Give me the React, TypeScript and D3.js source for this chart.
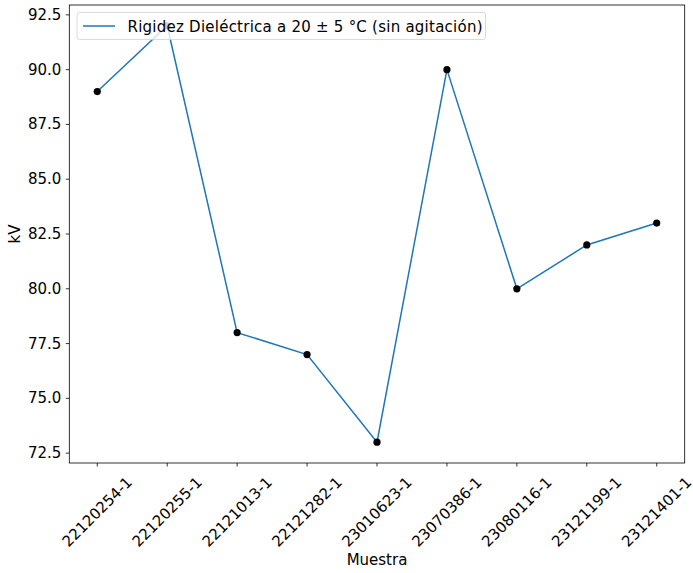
import React from "react";
import * as d3 from "d3";

const categories = [
  "22120254-1",
  "22120255-1",
  "22121013-1",
  "22121282-1",
  "23010623-1",
  "23070386-1",
  "23080116-1",
  "23121199-1",
  "23121401-1",
];
const values = [89, 92, 78, 77, 73, 90, 80, 82, 83];
const yTicks = [72.5, 75.0, 77.5, 80.0, 82.5, 85.0, 87.5, 90.0, 92.5];
const seriesLabel = "Rigidez Dieléctrica a 20 ± 5 °C (sin agitación)";

const W = 693;
const H = 573;
const left = 69.3;
const right = 684.7;
const top = 5;
const bottom = 463;
const FONT = "DejaVu Sans, sans-serif";
const FS = 15;

export default function App() {
  const x = d3.scaleLinear().domain([-0.4, 8.4]).range([left, right]);
  const yMin = d3.min(values)!;
  const yMax = d3.max(values)!;
  const pad = (yMax - yMin) * 0.05;
  const y = d3.scaleLinear().domain([yMin - pad, yMax + pad]).range([bottom, top]);
  const line = d3
    .line<number>()
    .x((_, i) => x(i))
    .y((d) => y(d));

  const labelCy = 512;

  return (
    <svg width={W} height={H} style={{ position: "absolute", left: 0, top: 0, fontFamily: FONT }}>
      <rect x={0} y={0} width={W} height={H} fill="#fff" />
      <path d={line(values) || ""} fill="none" stroke="#1f77b4" strokeWidth={1.5} />
      {values.map((v, i) => (
        <circle key={i} cx={x(i)} cy={y(v)} r={3.6} fill="#000" />
      ))}
      <rect
        x={left}
        y={top}
        width={right - left}
        height={bottom - top}
        fill="none"
        stroke="#000"
        strokeWidth={0.8}
      />
      {yTicks.map((t) => (
        <g key={t}>
          <line x1={left - 3.5} x2={left} y1={y(t)} y2={y(t)} stroke="#000" strokeWidth={0.8} />
          <text
            x={left - 8}
            y={y(t)}
            textAnchor="end"
            dominantBaseline="central"
            fontSize={FS}
            fill="#000"
          >
            {t.toFixed(1)}
          </text>
        </g>
      ))}
      {categories.map((c, i) => (
        <g key={c}>
          <line x1={x(i)} x2={x(i)} y1={bottom} y2={bottom + 3.5} stroke="#000" strokeWidth={0.8} />
          <text
            x={x(i)}
            y={labelCy}
            textAnchor="middle"
            dominantBaseline="central"
            fontSize={FS}
            fill="#000"
            transform={`rotate(-45, ${x(i)}, ${labelCy})`}
          >
            {c}
          </text>
        </g>
      ))}
      <text x={(left + right) / 2} y={565} textAnchor="middle" fontSize={FS} fill="#000">
        Muestra
      </text>
      <text
        x={19.5}
        y={(top + bottom) / 2}
        textAnchor="middle"
        fontSize={FS}
        fill="#000"
        transform={`rotate(-90, 19.5, ${(top + bottom) / 2})`}
      >
        kV
      </text>
      <g>
        <rect
          x={77}
          y={12.5}
          width={408.5}
          height={27}
          rx={2.5}
          fill="#fff"
          fillOpacity={0.8}
          stroke="#d0d0d0"
          strokeWidth={0.8}
        />
        <line x1={83} x2={115} y1={26} y2={26} stroke="#1f77b4" strokeWidth={1.5} />
        <text
          x={127.5}
          y={26.5}
          dominantBaseline="central"
          fontSize={FS}
          fill="#000"
          textLength={355}
          lengthAdjust="spacing"
        >
          {seriesLabel}
        </text>
      </g>
    </svg>
  );
}
